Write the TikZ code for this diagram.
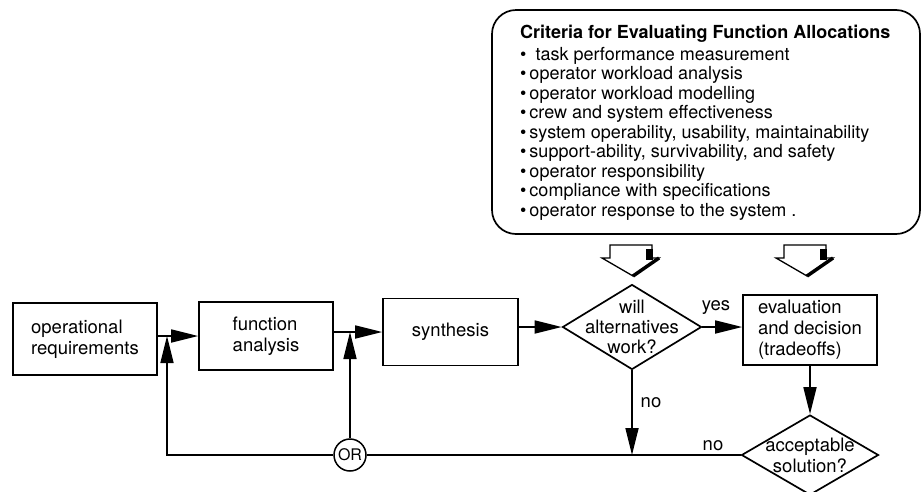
\documentclass[tikz,border=0pt]{standalone}
\usepackage{fontspec}
\setmainfont{TeX Gyre Heros}
\usetikzlibrary{shapes.geometric, arrows.meta, calc}
\begin{document}
\begin{tikzpicture}[x=1pt,y=-1pt,
 every node/.style={font=\fontsize{18.5}{21}\selectfont},
 box/.style={draw, line width=1.7pt, rectangle, align=left, inner sep=0pt},
 dia/.style={draw, line width=1.7pt, diamond, inner sep=0pt},
 arr/.style={line width=1.7pt, -{Triangle[length=27pt,width=13pt]}},
 ln/.style={line width=1.7pt},
 lbl/.style={inner sep=0pt}
]
\useasboundingbox (0,0) rectangle (923,491);

% criteria box
\node[draw, line width=1.7pt, rounded corners=24pt, minimum width=428pt, minimum height=224pt] (crit) at (706,122) {};
\node[lbl, anchor=north west, align=left, font=\fontsize{18}{19.5}\selectfont] (crittxt) at (520,25)
 {\textbf{Criteria for Evaluating Function Allocations}\\[2pt]
 •\hspace{9pt}task performance measurement\\
 •\hspace{3pt}operator workload analysis\\
 •\hspace{3pt}operator workload modelling\\
 •\hspace{3pt}crew and system effectiveness\\
 •\hspace{3pt}system operability, usability, maintainability\\
 •\hspace{3pt}support-ability, survivability, and safety\\
 •\hspace{3pt}operator responsibility\\
 •\hspace{3pt}compliance with specifications\\
 •\hspace{3pt}operator response to the system .};

% block arrows
\foreach \cx in {632,806}{
 \filldraw[fill=white, line width=1.3pt, line join=miter] (\cx-22,245) -- (\cx+20,245) -- (\cx+20,258) -- (\cx+27,258) -- (\cx+1,276) -- (\cx-30,258) -- (\cx-22,258) -- cycle;
 \fill (\cx+14,249) rectangle (\cx+21,260);
 \draw[line width=3.5pt] (\cx+27,258) -- (\cx+1,276);
}

% main row
\node[box, minimum width=144pt, minimum height=72pt] (opreq) at (85,339) {operational\\requirements};
\node[box, minimum width=134pt, minimum height=68pt] (fa) at (266,336) {function\\analysis};
\node[box, minimum width=135pt, minimum height=67pt] (syn) at (450.5,332) {synthesis};
\node[dia, minimum width=139pt, minimum height=85pt] (will) at (632,327) {};
\node[lbl, align=center, font=\fontsize{18.5}{20}\selectfont] (willtxt) at (632,327) {will\\alternatives\\work?};
\node[box, minimum width=134pt, minimum height=70pt] (eval) at (810,330) {evaluation\\and decision\\(tradeoffs)};
\node[dia, minimum width=137pt, minimum height=80pt] (acc) at (810,455) {};
\node[lbl, align=center] (acctxt) at (810,455) {acceptable\\solution?};
\node[circle, draw, line width=1.5pt, minimum size=32pt, inner sep=0pt, font=\fontsize{16}{16}\selectfont] (OR) at (350,455) {OR};

\coordinate (j1) at (167,336);
\coordinate (j2) at (350,332);

% connectors
\draw[arr] (opreq.east |- fa.west) -- (fa.west);
\draw[arr] (fa.east |- syn.west) -- (syn.west);
\draw[arr] (syn.east |- will.west) -- (will.west);
\draw[arr] (will.east) -- (will.east -| eval.west);
\draw[arr] (eval.south) -- (acc.north);
\draw[arr] (will.south) -- (will.south |- acc.west);
\draw[ln] (acc.west) -- (OR.east);
\draw[arr] (OR.west) -| (j1);
\draw[arr] (OR.north) -- (j2);

% labels
\node[lbl] (yes) at (716,308) {yes};
\node[lbl] (no1) at (651,403) {no};
\node[lbl] (no2) at (713,446) {no};
\end{tikzpicture}
\end{document}
